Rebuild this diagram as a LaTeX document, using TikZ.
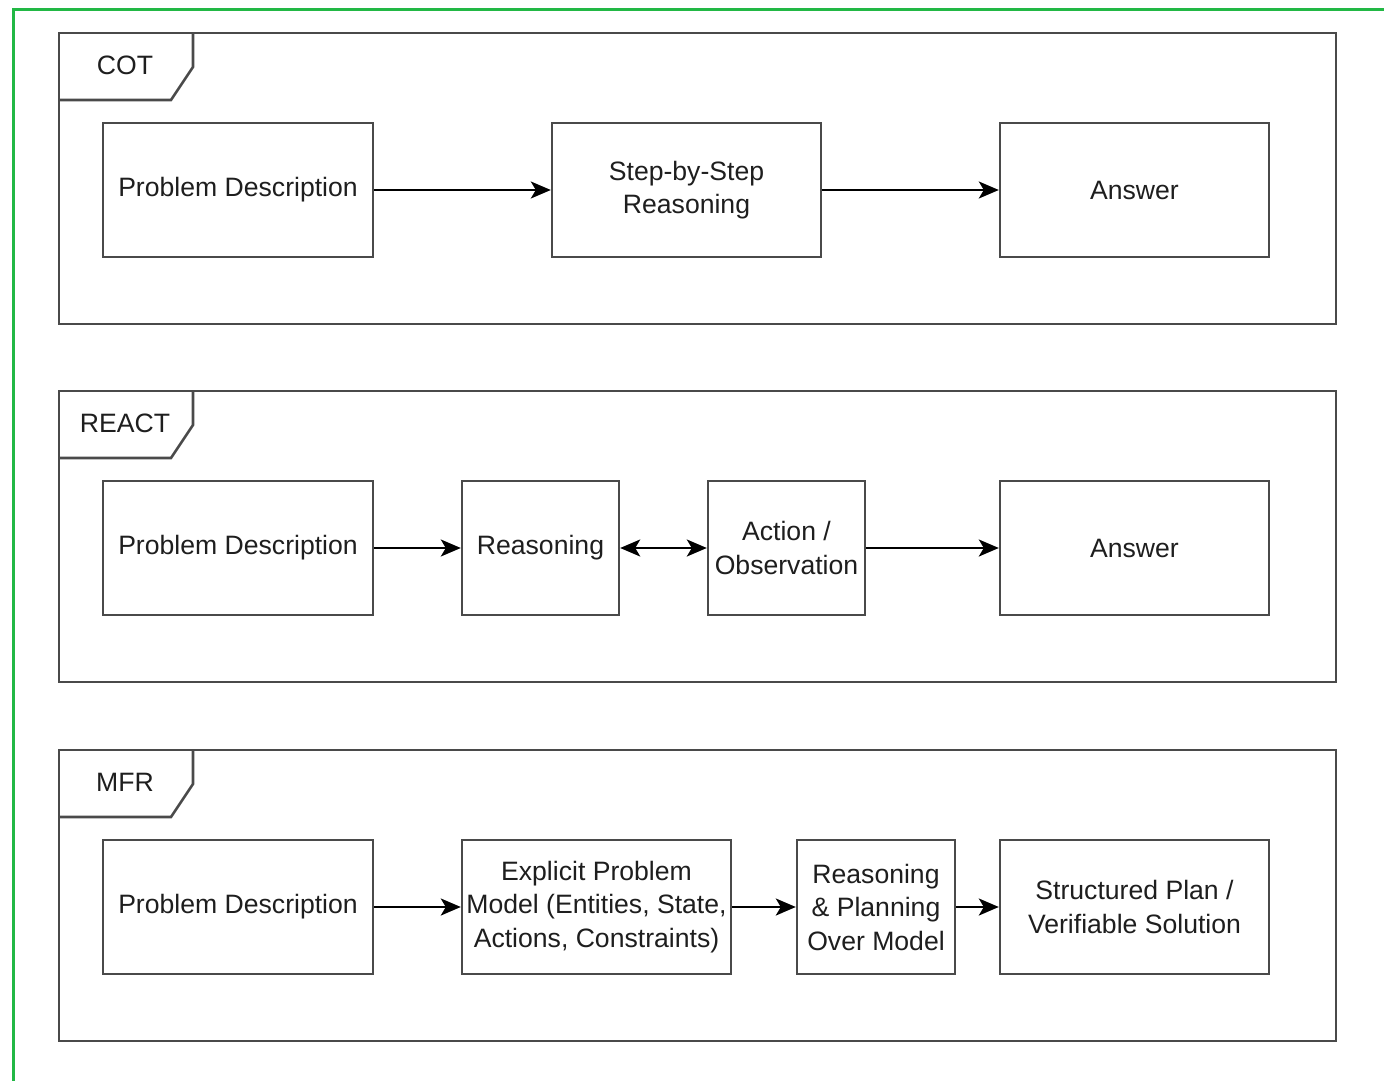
\documentclass[tikz,border=0pt]{standalone}
\usepackage{fontspec}
\setmainfont{Liberation Sans}
\usetikzlibrary{arrows.meta}
\definecolor{framegreen}{HTML}{22B845}
\definecolor{linegray}{HTML}{4A4A4A}
\definecolor{txt}{HTML}{1E1E1E}
\begin{document}
\begin{tikzpicture}[x=1pt,y=-1pt,
  every node/.style={font=\fontsize{26.6}{33.5}\selectfont, text=txt, align=center, inner sep=0pt},
  stepbox/.style={draw=linegray, line width=2.4pt, fill=white},
  frame/.style={draw=linegray, line width=2.6pt},
  link/.style={draw=black, line width=2.3pt, -{Stealth[length=20pt,width=17pt,inset=5pt]}},
  biLink/.style={draw=black, line width=2.3pt, {Stealth[length=20pt,width=17pt,inset=5pt]}-{Stealth[length=20pt,width=17pt,inset=5pt]}}
]
\useasboundingbox (0,0) rectangle (1384,1081);
% outer green border
\draw[framegreen, line width=3pt] (13,1081) -- (13,10) -- (1384,10);

% panel frames with corner tabs
\foreach \top/\name in {33/COT,391/REACT,750/MFR}{
  \draw[frame] (59,\top) rectangle (1336,\top+291);
  \draw[frame] (59,\top+67) -- (171,\top+67) -- (193,\top+34) -- (193,\top);
  \node at (125,\top+32) {\name};
}

% COT
\node[stepbox, minimum width=270pt, minimum height=134pt] (c1) at (238,190) {Problem Description};
\node[stepbox, minimum width=269pt, minimum height=134pt] (c2) at (686.5,190) {Step-by-Step\\Reasoning};
\node[stepbox, minimum width=269pt, minimum height=134pt] (c3) at (1134.5,190) {Answer};
\draw[link] (c1) -- (c2);
\draw[link] (c2) -- (c3);

% REACT
\node[stepbox, minimum width=270pt, minimum height=134pt] (r1) at (238,548) {Problem Description};
\node[stepbox, minimum width=157pt, minimum height=134pt] (r2) at (540.5,548) {Reasoning};
\node[stepbox, minimum width=157pt, minimum height=134pt] (r3) at (786.5,548) {Action /\\Observation};
\node[stepbox, minimum width=269pt, minimum height=134pt] (r4) at (1134.5,548) {Answer};
\draw[link] (r1) -- (r2);
\draw[biLink] (r2) -- (r3);
\draw[link] (r3) -- (r4);

% MFR
\node[stepbox, minimum width=270pt, minimum height=134pt] (m1) at (238,907) {Problem Description};
\node[stepbox, minimum width=269pt, minimum height=134pt] (m2) at (596.5,907) {Explicit Problem\\Model (Entities, State,\\Actions, Constraints)};
\node[stepbox, minimum width=158pt, minimum height=134pt] (m3) at (876,907) {Reasoning\\\& Planning\\Over Model};
\node[stepbox, minimum width=269pt, minimum height=134pt] (m4) at (1134.5,907) {Structured Plan /\\Verifiable Solution};
\draw[link] (m1) -- (m2);
\draw[link] (m2) -- (m3);
\draw[link] (m3) -- (m4);
\end{tikzpicture}
\end{document}
